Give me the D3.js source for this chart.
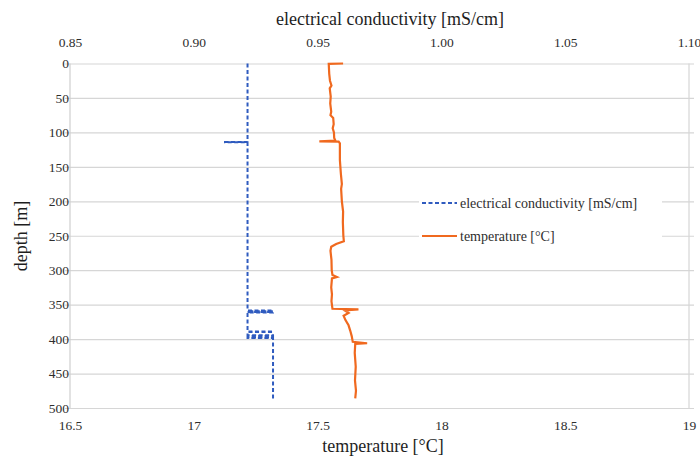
<!DOCTYPE html>
<html>
<head>
<meta charset="utf-8">
<script src="https://cdn.jsdelivr.net/npm/d3@7"></script>
<style>
  body { margin: 0; background: #fff; }
  svg text { font-family: 'Liberation Serif', 'Times New Roman', Times, serif !important; }
</style>
</head>
<body>
<div id="chart"></div>
<script>
'use strict'

// depth ticks (m) and the two x scales
const depthTicks = [0, 50, 100, 150, 200, 250, 300, 350, 400, 450, 500]
const ecTicks = [0.85, 0.90, 0.95, 1.00, 1.05, 1.10]
const tempTicks = [16.5, 17, 17.5, 18, 18.5, 19]

// electrical conductivity profile [depth, mS/cm]
const ecProfile = [
	[0, 0.9217], [114, 0.9217], [114, 0.9126], [114.3, 0.9126], [114.3, 0.9217],
	[358.5, 0.9217], [358.5, 0.932], [359.5, 0.932], [359.5, 0.9217], [360.5, 0.9217],
	[360.5, 0.932], [361.5, 0.932], [361.5, 0.9217], [389, 0.9217], [389, 0.932],
	[389.6, 0.932], [389.6, 0.9217], [394.5, 0.9217], [394.5, 0.932], [395.5, 0.932],
	[395.5, 0.9217], [396.5, 0.9217], [396.5, 0.932], [397.5, 0.932], [397.5, 0.9217],
	[398.5, 0.9217], [398.5, 0.932], [487, 0.932]
]

// temperature profile [depth, °C]
const tempProfile = [
	[0, 17.603], [0.5, 17.545], [15, 17.547], [25, 17.55], [32, 17.556], [36, 17.549],
	[48, 17.553], [58, 17.551], [70, 17.555], [75, 17.552], [79, 17.563], [88, 17.565],
	[94, 17.561], [100, 17.566], [108, 17.567], [112, 17.572], [113, 17.507], [113.5, 17.585],
	[116, 17.59], [140, 17.59], [160, 17.594], [175, 17.598], [182, 17.595], [200, 17.598],
	[215, 17.603], [230, 17.602], [250, 17.604], [258, 17.606], [262, 17.575], [266, 17.555],
	[272, 17.552], [285, 17.556], [300, 17.557], [307, 17.56], [310, 17.578], [312, 17.558],
	[325, 17.555], [335, 17.558], [345, 17.556], [356, 17.56], [357, 17.665], [358.5, 17.61],
	[362, 17.625], [366, 17.605], [372, 17.612], [380, 17.625], [388, 17.632], [396, 17.638],
	[404, 17.642], [406, 17.70], [407, 17.652], [420, 17.65], [440, 17.654], [460, 17.651],
	[475, 17.655], [486, 17.652]
]

const legendItems = [
	["electrical conductivity [mS/cm]", "#2f5bbf", "4,2.5"],
	["temperature [°C]", "#f0691f", null]
]

const serif = "'Liberation Serif', 'Times New Roman', Times, serif"

const W = 700, H = 456
const plot = {left: 70, right: 689, top: 63.5, bottom: 408}

const svg = d3.select("#chart").append("svg").attr("width", W).attr("height", H)
	.attr("font-family", serif)

const yScale = d3.scaleLinear().domain([0, 500]).range([plot.top, plot.bottom])
const ecScale = d3.scaleLinear().domain([0.85, 1.10]).range([plot.left, plot.right])
const tScale = d3.scaleLinear().domain([16.5, 19]).range([plot.left, plot.right])

function styleTicks(g){
	g.attr("font-family", serif).attr("font-size", 13.5)
	g.selectAll(".tick text").attr("fill", "#2e2e2e")
}

// gridlines + depth labels
const yAxis = svg.append("g")
	.attr("transform", "translate(" + plot.left + ",0)")
	.call(d3.axisLeft(yScale).tickValues(depthTicks).tickSize(-(plot.right - plot.left) - 5).tickSizeOuter(0).tickPadding(1))
yAxis.select(".domain").remove()
yAxis.selectAll(".tick line").attr("x1", -5).attr("stroke", "#d6d6d6").attr("stroke-width", 1.2)
styleTicks(yAxis)

// left axis line and right frame
svg.append("line").attr("x1", plot.left).attr("x2", plot.left).attr("y1", plot.top).attr("y2", plot.bottom)
	.attr("stroke", "#cfcfcf").attr("stroke-width", 1.2)
svg.append("line").attr("x1", plot.right).attr("x2", plot.right).attr("y1", plot.top).attr("y2", plot.bottom)
	.attr("stroke", "#d6d6d6").attr("stroke-width", 1.2)

const topAxis = svg.append("g")
	.attr("transform", "translate(0," + (plot.top - 16) + ")")
	.call(d3.axisTop(ecScale).tickValues(ecTicks).tickFormat(d3.format(".2f")).tickSize(0).tickPadding(1))
topAxis.select(".domain").remove()
styleTicks(topAxis)

const bottomAxis = svg.append("g")
	.attr("transform", "translate(0," + (plot.bottom + 11) + ")")
	.call(d3.axisBottom(tScale).tickValues(tempTicks).tickFormat(d => String(d)).tickSize(0).tickPadding(1))
bottomAxis.select(".domain").remove()
styleTicks(bottomAxis)

// axis titles
svg.append("text").attr("x", 390).attr("y", 25).attr("text-anchor", "middle")
	.attr("fill", "#1e1e1e").attr("font-size", 18).text("electrical conductivity [mS/cm]")
svg.append("text").attr("x", 383).attr("y", 452).attr("text-anchor", "middle")
	.attr("fill", "#1e1e1e").attr("font-size", 18).text("temperature [°C]")
svg.append("text").attr("transform", "translate(27,236) rotate(-90)").attr("text-anchor", "middle")
	.attr("fill", "#1e1e1e").attr("font-size", 18).text("depth [m]")

// profiles
const ecLine = d3.line().x(d => ecScale(d[1])).y(d => yScale(d[0]))
const tLine = d3.line().x(d => tScale(d[1])).y(d => yScale(d[0]))

svg.append("path").datum(ecProfile).attr("d", ecLine)
	.attr("fill", "none").attr("stroke", legendItems[0][1]).attr("stroke-width", 2)
	.attr("stroke-dasharray", legendItems[0][2])
svg.append("path").datum(tempProfile).attr("d", tLine)
	.attr("fill", "none").attr("stroke", legendItems[1][1]).attr("stroke-width", 2.2)

// legend
const lg = svg.append("g")
lg.append("rect").attr("x", 419).attr("y", 186).attr("width", 243).attr("height", 68).attr("fill", "#fff")
legendItems.forEach(function(item, i){
	let y = 203 + i * 33
	lg.append("line").attr("x1", 422).attr("x2", 457).attr("y1", y).attr("y2", y)
		.attr("stroke", item[1]).attr("stroke-width", 2)
		.attr("stroke-dasharray", item[2])
	lg.append("text").attr("x", 460).attr("y", y + 4.5).attr("fill", "#2e2e2e")
		.attr("font-size", 14).text(item[0])
})
</script>
</body>
</html>
